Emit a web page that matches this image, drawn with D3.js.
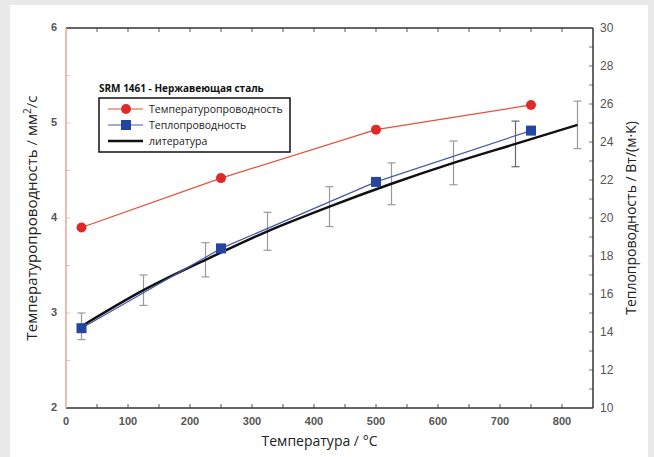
<!DOCTYPE html>
<html>
<head>
<meta charset="utf-8">
<script src="https://cdn.jsdelivr.net/npm/d3@7"></script>
<style>
  body { margin: 0; background: #e9e9e9; }
  svg { display: block; }
</style>
</head>
<body>
<svg id="chart" width="654" height="457"></svg>
<script>
// data
var diffTemps = [25, 250, 500, 750];
var diffValues = [3.9, 4.42, 4.93, 5.19];        // мм²/с, left axis
var condTemps = [25, 250, 500, 750];
var condValues = [14.2, 18.4, 21.9, 24.6];       // Вт/(м·К), right axis
var litTemps = [25, 125, 225, 325, 425, 525, 625, 725, 825];
var litValues = [14.3, 16.2, 17.8, 19.3, 20.6, 21.8, 22.9, 23.9, 24.9];
var litErrors = [0.7, 0.8, 0.9, 1.0, 1.05, 1.1, 1.15, 1.2, 1.25];
var xTicks = [0, 100, 200, 300, 400, 500, 600, 700, 800];
var leftTicks = [2, 3, 4, 5, 6];
var rightTicks = [10, 12, 14, 16, 18, 20, 22, 24, 26, 28, 30];

var svg = d3.select("#chart");
svg.append("rect").attr("x", 10).attr("y", 5).attr("width", 638).attr("height", 452).attr("fill", "#fff");

var pL = 66, pR = 593, pT = 28, pB = 408;
var x = d3.scaleLinear().domain([0, 850]).range([pL, pR]);
var yL = d3.scaleLinear().domain([2, 6]).range([pB, pT]);
var yR = d3.scaleLinear().domain([10, 30]).range([pB, pT]);

// minor ticks along frame
var g = svg.append("g");
d3.range(0, 851, 50).forEach(function (t) {
    if (t === 0 || t === 850) return;
    g.append("line").attr("x1", x(t)).attr("x2", x(t)).attr("y1", pB).attr("y2", pB - 4).attr("stroke", "#555");
    g.append("line").attr("x1", x(t)).attr("x2", x(t)).attr("y1", pT).attr("y2", pT + 4).attr("stroke", "#555");
});
d3.range(2.5, 6, 0.5).forEach(function (t) {
    g.append("line").attr("x1", pL).attr("x2", pL + 4).attr("y1", yL(t)).attr("y2", yL(t)).attr("stroke", "#ccc");
});
d3.range(11, 30, 1).forEach(function (t) {
    g.append("line").attr("x1", pR).attr("x2", pR - 4).attr("y1", yR(t)).attr("y2", yR(t)).attr("stroke", "#777");
});

// frame
g.append("line").attr("x1", pL).attr("x2", pR).attr("y1", pB).attr("y2", pB).attr("stroke", "#333").attr("stroke-width", 1.5);
g.append("line").attr("x1", pL).attr("x2", pR).attr("y1", pT).attr("y2", pT).attr("stroke", "#333").attr("stroke-width", 1.5);
g.append("line").attr("x1", pR).attr("x2", pR).attr("y1", pT).attr("y2", pB).attr("stroke", "#333").attr("stroke-width", 1.5);
g.append("line").attr("x1", pL).attr("x2", pL).attr("y1", pT).attr("y2", pB).attr("stroke", "#f2a38f").attr("stroke-width", 1.5);

// tick labels
svg.append("g").selectAll("text").data(xTicks).enter().append("text")
    .attr("x", d => x(d)).attr("y", pB + 17)
    .attr("text-anchor", "middle")
    .style("font", "bold 11px 'Liberation Sans', Arial, sans-serif").attr("fill", "#555")
    .text(d => d);
svg.append("g").selectAll("text").data(leftTicks).enter().append("text")
    .attr("x", pL - 9).attr("y", d => yL(d) + 3)
    .attr("text-anchor", "end")
    .style("font", "bold 11px 'Liberation Sans', Arial, sans-serif").attr("fill", "#555")
    .text(d => d);
svg.append("g").selectAll("text").data(rightTicks).enter().append("text")
    .attr("x", pR + 7).attr("y", d => yR(d) + 4)
    .style("font", "12px 'Liberation Sans', Arial, sans-serif").attr("fill", "#555")
    .text(d => d);

// axis titles
var titleFont = "14px 'Open Sans', 'Noto Sans', sans-serif";
svg.append("text").attr("x", (pL + pR) / 2 - 10).attr("y", 446).attr("text-anchor", "middle")
    .style("font", titleFont).attr("fill", "#222").text("Температура / °C");
var lt = svg.append("text").attr("transform", "translate(37," + (pT + pB) / 2 + ") rotate(-90)")
    .attr("text-anchor", "middle").style("font", "15px 'Open Sans', 'Noto Sans', sans-serif").attr("fill", "#222");
lt.append("tspan").text("Температуропроводность / мм");
lt.append("tspan").attr("dy", -6).style("font-size", "10px").text("2");
lt.append("tspan").attr("dy", 6).text("/с");
svg.append("text").attr("transform", "translate(636," + (pT + pB) / 2 + ") rotate(-90)")
    .attr("text-anchor", "middle").style("font", titleFont).attr("fill", "#222")
    .text("Теплопроводность / Вт/(м·К)");

// error bars
var eb = svg.append("g").attr("stroke-width", 1.2);
litTemps.forEach(function (t, i) {
    var lo = yR(litValues[i] - litErrors[i]), hi = yR(litValues[i] + litErrors[i]);
    var c = i === 7 ? "#666" : "#9a9a9a";
    eb.append("line").attr("x1", x(t)).attr("x2", x(t)).attr("y1", lo).attr("y2", hi).attr("stroke", c);
    eb.append("line").attr("x1", x(t) - 4).attr("x2", x(t) + 4).attr("y1", lo).attr("y2", lo).attr("stroke", c);
    eb.append("line").attr("x1", x(t) - 4).attr("x2", x(t) + 4).attr("y1", hi).attr("y2", hi).attr("stroke", c);
});

// literature line
svg.append("path").datum(litTemps.map((t, i) => [t, litValues[i]]))
    .attr("fill", "none").attr("stroke", "#111").attr("stroke-width", 2.5)
    .attr("d", d3.line().curve(d3.curveMonotoneX).x(d => x(d[0])).y(d => yR(d[1])));

// thermal conductivity
svg.append("path").datum(condTemps.map((t, i) => [t, condValues[i]]))
    .attr("fill", "none").attr("stroke", "#4a58a8").attr("stroke-width", 1.2)
    .attr("d", d3.line().x(d => x(d[0])).y(d => yR(d[1])));
svg.append("g").selectAll("rect").data(condTemps).enter().append("rect")
    .attr("x", (d) => x(d) - 5).attr("y", (d, i) => yR(condValues[i]) - 5)
    .attr("width", 10).attr("height", 10).attr("fill", "#2446a0");

// thermal diffusivity
svg.append("path").datum(diffTemps.map((t, i) => [t, diffValues[i]]))
    .attr("fill", "none").attr("stroke", "#e5503c").attr("stroke-width", 1.2)
    .attr("d", d3.line().x(d => x(d[0])).y(d => yL(d[1])));
svg.append("g").selectAll("circle").data(diffTemps).enter().append("circle")
    .attr("cx", d => x(d)).attr("cy", (d, i) => yL(diffValues[i]))
    .attr("r", 5).attr("fill", "#e02a2a");

// legend
var lg = svg.append("g");
lg.append("text").attr("x", 99).attr("y", 92).style("font", "bold 10px 'Open Sans', 'Noto Sans', sans-serif")
    .attr("fill", "#111").text("SRM 1461 - Нержавеющая сталь");
lg.append("rect").attr("x", 99).attr("y", 98).attr("width", 191).attr("height", 54)
    .attr("fill", "#fff").attr("stroke", "#111").attr("stroke-width", 1.5);
var items = [
    { label: "Температуропроводность", color: "#e5503c", w: 1.2, mark: "circle" },
    { label: "Теплопроводность", color: "#4a58a8", w: 1.2, mark: "square" },
    { label: "литература", color: "#111", w: 2.5, mark: null }
];
items.forEach(function (it, i) {
    var yy = 109 + i * 16;
    lg.append("line").attr("x1", 108).attr("x2", 143).attr("y1", yy).attr("y2", yy)
        .attr("stroke", it.color).attr("stroke-width", it.w);
    if (it.mark === "circle") lg.append("circle").attr("cx", 126).attr("cy", yy).attr("r", 5).attr("fill", "#e02a2a");
    if (it.mark === "square") lg.append("rect").attr("x", 121).attr("y", yy - 5).attr("width", 10).attr("height", 10).attr("fill", "#2446a0");
    lg.append("text").attr("x", 149).attr("y", yy + 4).style("font", "10.5px 'Open Sans', 'Noto Sans', sans-serif")
        .attr("fill", "#222").text(it.label);
});
</script>
</body>
</html>
